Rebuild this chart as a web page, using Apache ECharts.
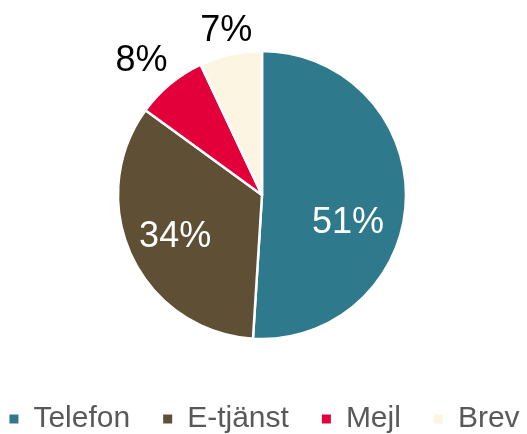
<!DOCTYPE html>
<html>
<head>
<meta charset="utf-8">
<script src="https://cdn.jsdelivr.net/npm/echarts@6/dist/echarts.min.js"></script>
<style>
  html, body { margin: 0; padding: 0; background: #ffffff; }
  #chart { width: 527px; height: 434px; }
</style>
</head>
<body>
<div id="chart"></div>
<script>
// Kontaktvägar – andel per kanal (%)
const categories = ['Telefon', 'E-tjänst', 'Mejl', 'Brev'];
const shares = [51, 34, 8, 7];
const colors = ['#2E7A8C', '#5E4F35', '#E3003A', '#FCF5E2'];

// Label nudges per slice (inside labels white, outside labels black)
const labelShift = [
  { dx: 11, dy: 26 },
  { dx: -19, dy: 10 },
  { dx: 15, dy: -8 },
  { dx: 31, dy: -4 }
];

const chart = echarts.init(document.getElementById('chart'), null, { renderer: 'canvas' });

const data = categories.map((name, i) => {
  const inside = i < 2;
  return {
    name: name,
    value: shares[i],
    itemStyle: { color: colors[i] },
    label: {
      position: inside ? 'inside' : 'outside',
      color: inside ? '#ffffff' : '#000000'
    }
  };
});

chart.setOption({
  animation: false,
  legend: {
    bottom: -5,
    left: 'center',
    icon: 'rect',
    itemWidth: 11,
    itemHeight: 11,
    itemGap: 31,
    textStyle: {
      fontFamily: 'Liberation Sans, Arial, sans-serif',
      fontSize: 30,
      color: '#595959',
      padding: [0, 0, 0, 9]
    },
    data: categories
  },
  series: [{
    type: 'pie',
    center: [262, 195],
    radius: 144,
    startAngle: 90,
    clockwise: true,
    avoidLabelOverlap: false,
    itemStyle: { borderColor: '#ffffff', borderWidth: 2.5 },
    label: {
      show: true,
      formatter: '{c}%',
      fontFamily: 'Liberation Sans, Arial, sans-serif',
      fontSize: 36
    },
    labelLine: { show: false, length: 20, length2: 0 },
    labelLayout: function (params) {
      return labelShift[params.dataIndex];
    },
    emphasis: { disabled: true },
    data: data
  }]
});
</script>
</body>
</html>
